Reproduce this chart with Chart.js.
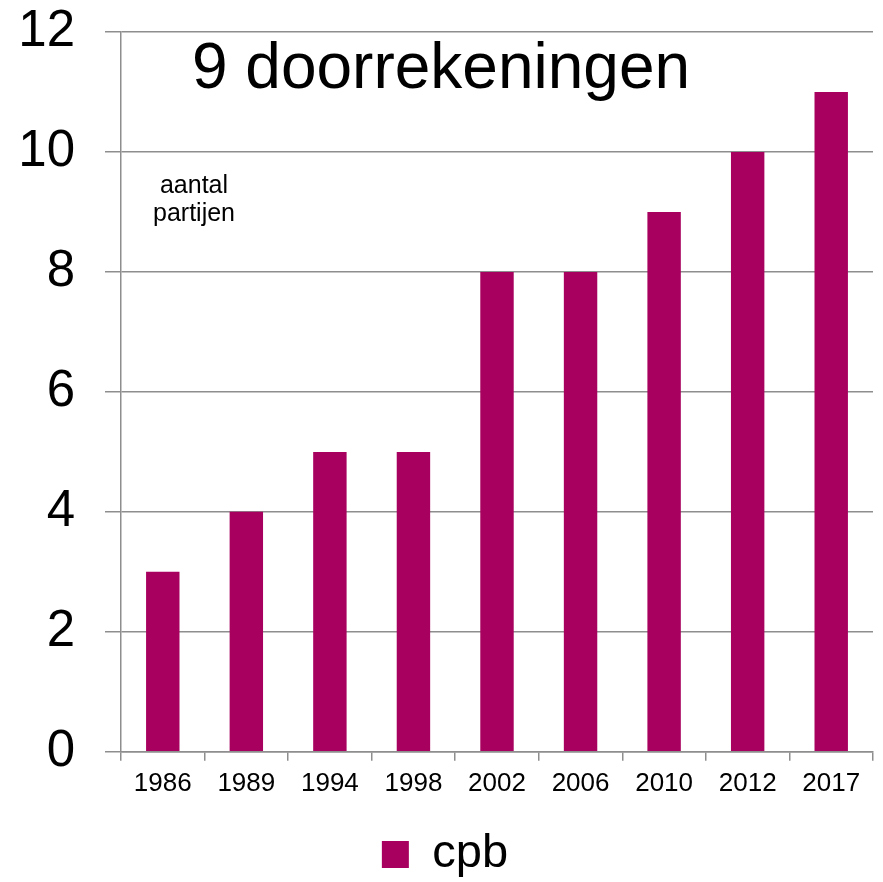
<!DOCTYPE html>
<html>
<head>
<meta charset="utf-8">
<script src="https://cdn.jsdelivr.net/npm/chart.js@4.4.1/dist/chart.umd.min.js"></script>
<style>
  html, body { margin: 0; padding: 0; background: #ffffff; }
  #wrap { width: 883px; height: 882px; }
</style>
</head>
<body>
<div id="wrap"><canvas id="c" width="883" height="882"></canvas></div>
<script>
const categories = ["1986", "1989", "1994", "1998", "2002", "2006", "2010", "2012", "2017"];
const cpbValues = [3, 4, 5, 5, 8, 8, 9, 10, 11];
const seriesName = "cpb";
const titleText = "9 doorrekeningen";
const noteLines = ["aantal", "partijen"];
const yTicks = [0, 2, 4, 6, 8, 10, 12];

const FONT = "'Liberation Sans', Arial, sans-serif";
const BAR = "#a8005f";
const GRID = "#8e8e8e";

const textPlugin = {
  id: 'textPlugin',
  afterDraw(chart) {
    const ctx = chart.ctx;
    const a = chart.chartArea;
    ctx.save();
    ctx.fillStyle = '#000';
    ctx.textBaseline = 'alphabetic';
    ctx.textAlign = 'center';
    ctx.font = "64px " + FONT;
    ctx.fillText(titleText, a.left + 320, a.top + 56);
    ctx.font = "25px " + FONT;
    ctx.fillText(noteLines[0], a.left + 73, a.top + 161);
    ctx.fillText(noteLines[1], a.left + 73, a.top + 189);
    ctx.restore();
  }
};

new Chart(document.getElementById('c'), {
  type: 'bar',
  data: {
    labels: categories,
    datasets: [{
      label: seriesName,
      data: cpbValues,
      backgroundColor: BAR,
      borderWidth: 0,
      barPercentage: 0.4,
      categoryPercentage: 1.0
    }]
  },
  options: {
    responsive: false,
    animation: false,
    devicePixelRatio: 1,
    layout: { padding: { left: 17, right: 10, top: 32, bottom: -6 } },
    plugins: {
      legend: {
        position: 'bottom',
        labels: {
          boxWidth: 27,
          boxHeight: 27,
          color: '#000',
          font: { family: FONT, size: 47 },
          padding: 25
        }
      },
      tooltip: { enabled: false }
    },
    scales: {
      x: {
        offset: true,
        grid: {
          offset: true,
          drawOnChartArea: false,
          drawTicks: true,
          tickLength: 9,
          color: GRID,
          lineWidth: 1.5
        },
        border: { display: true, color: GRID, width: 1.5 },
        ticks: {
          color: '#000',
          font: { family: FONT, size: 26 },
          padding: 7,
          maxRotation: 0,
          autoSkip: false
        }
      },
      y: {
        min: 0,
        max: 12,
        afterBuildTicks(scale) { scale.ticks = yTicks.map(v => ({ value: v })); },
        afterFit(scale) {
          scale.width = 104;
          scale.paddingTop = 0;
          scale.paddingBottom = 0;
        },
        grid: {
          color: GRID,
          lineWidth: 1.5,
          tickLength: 16,
          drawTicks: true
        },
        border: { display: true, color: GRID, width: 1.5 },
        ticks: {
          color: '#000',
          font: { family: FONT, size: 51 },
          padding: 30
        }
      }
    }
  },
  plugins: [textPlugin]
});
</script>
</body>
</html>
